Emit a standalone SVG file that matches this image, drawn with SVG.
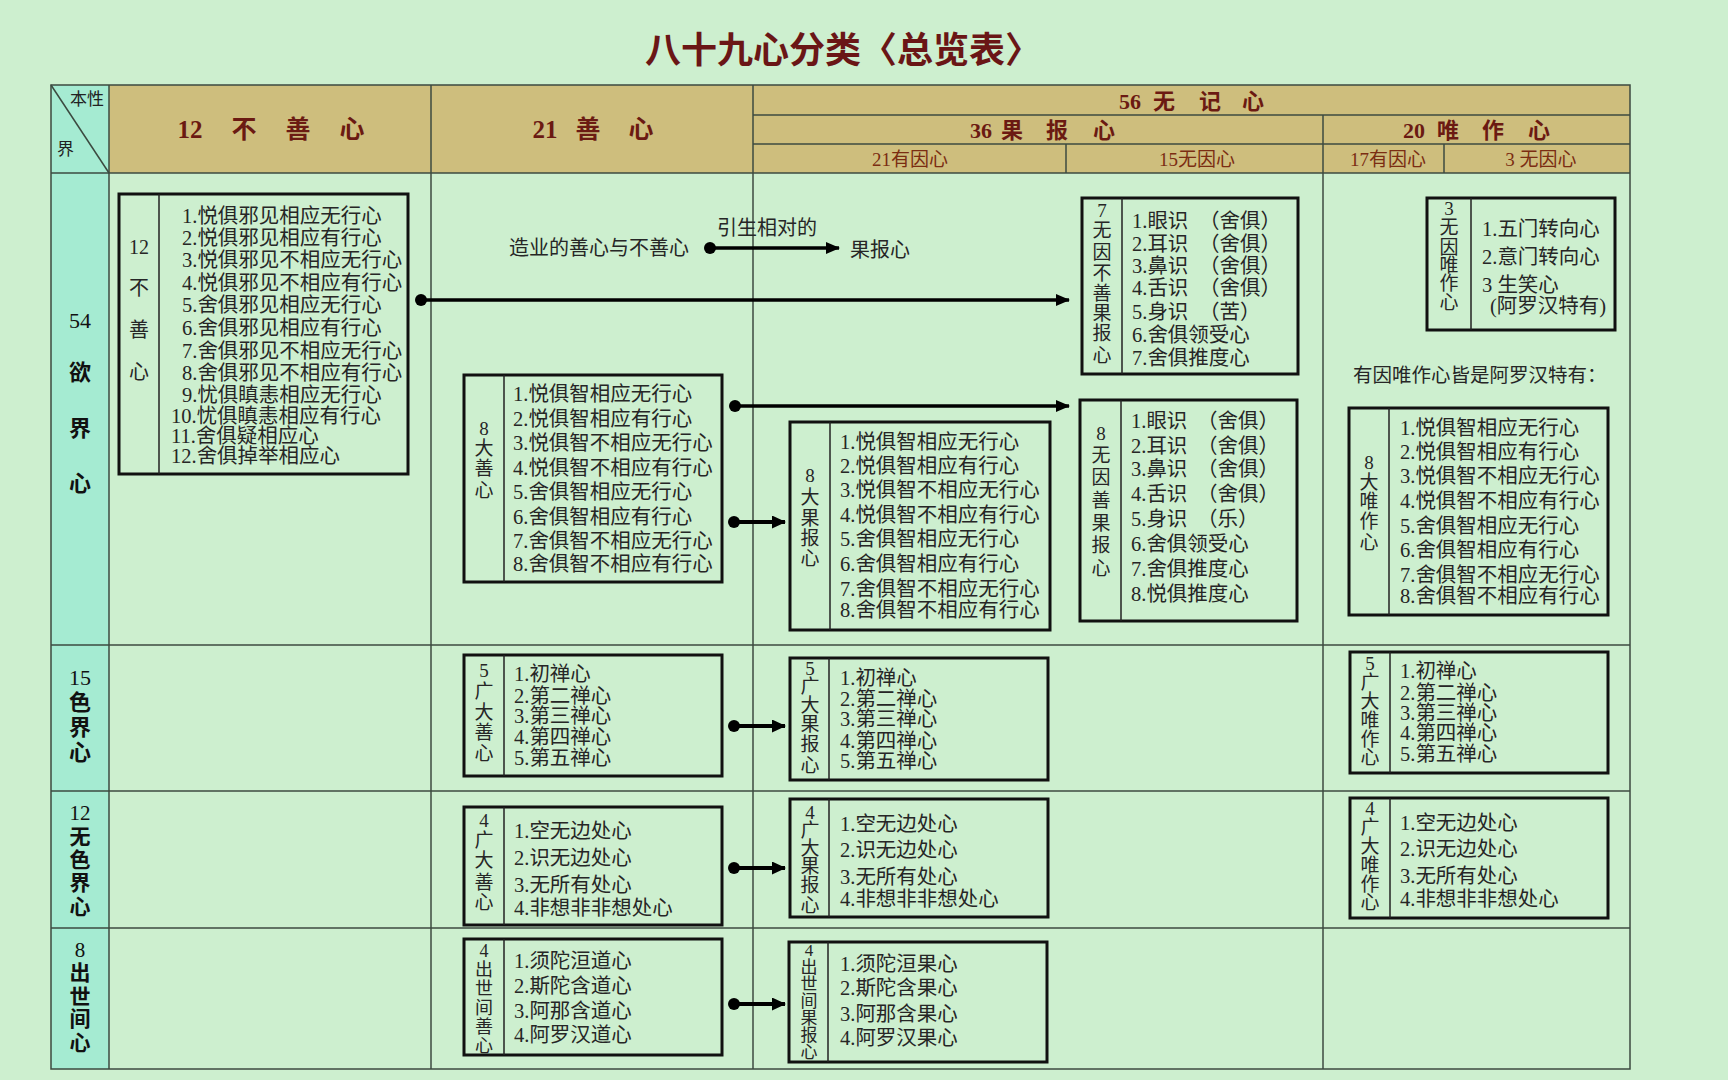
<svg xmlns="http://www.w3.org/2000/svg" width="1728" height="1080" viewBox="0 0 1728 1080">
<defs>
<style>
text{font-family:"Liberation Serif","Noto Sans CJK SC",serif;}
.title{font-size:36px;fill:#6a1616;font-weight:bold;}
.h1{font-size:25px;fill:#6b1a12;text-anchor:middle;font-weight:bold;}
.h2{font-size:22px;fill:#6b1a12;text-anchor:middle;font-weight:bold;}
.h3{font-size:19px;fill:#7b2d12;text-anchor:middle;}
.corner{font-size:17px;fill:#222;}
.row{font-size:22px;fill:#111;text-anchor:middle;font-weight:bold;}
.row .d{font-weight:normal;}
.t{font-size:20.5px;fill:#262626;}
.lab{font-size:19px;fill:#262626;text-anchor:middle;}
.note{font-size:20px;fill:#262626;}
.box{fill:none;stroke:#111;stroke-width:3;}
.dv{stroke:#222;stroke-width:1.5;}
.grid{stroke:#3c4a40;stroke-width:1.5;fill:none;}
.arr{stroke:#000;stroke-width:3.5;fill:none;marker-end:url(#ah);}
.arr2{stroke:#000;stroke-width:4;fill:none;marker-end:url(#ah2);}
.dot{fill:#000;}
</style>
<marker id="ah" markerUnits="userSpaceOnUse" markerWidth="14" markerHeight="12" refX="13" refY="6" orient="auto"><path d="M0,0 L14,6 L0,12 z" fill="#000"/></marker>
<marker id="ah2" markerUnits="userSpaceOnUse" markerWidth="14" markerHeight="13" refX="13" refY="6.5" orient="auto"><path d="M0,0 L14,6.5 L0,13 z" fill="#000"/></marker>
</defs>
<rect x="0" y="0" width="1728" height="1080" fill="#cdefcf"/>
<text class="title" x="645" y="63">八十九心分类〈总览表〉</text>

<g id="table">
<rect x="109" y="85" width="1521" height="88" fill="#cebe7d"/>
<rect x="51" y="85" width="58" height="984" fill="#a5ebd2"/>
<rect class="grid" x="51" y="85" width="1579" height="984"/>
<line class="grid" x1="753" y1="115" x2="1630" y2="115"/>
<line class="grid" x1="753" y1="144" x2="1630" y2="144"/>
<line class="grid" x1="51" y1="173" x2="1630" y2="173"/>
<line class="grid" x1="51" y1="645" x2="1630" y2="645"/>
<line class="grid" x1="51" y1="791" x2="1630" y2="791"/>
<line class="grid" x1="51" y1="928" x2="1630" y2="928"/>
<line class="grid" x1="109" y1="85" x2="109" y2="1069"/>
<line class="grid" x1="431" y1="85" x2="431" y2="1069"/>
<line class="grid" x1="753" y1="85" x2="753" y2="1069"/>
<line class="grid" x1="1323" y1="115" x2="1323" y2="1069"/>
<line class="grid" x1="1066" y1="144" x2="1066" y2="173"/>
<line class="grid" x1="1444" y1="144" x2="1444" y2="173"/>
<line class="grid" x1="51" y1="85" x2="109" y2="173"/>
<text class="corner" x="70" y="105">本性</text>
<text class="corner" x="57" y="155">界</text>
<text class="h1"><tspan x="190" y="138">12</tspan><tspan x="244" y="138">不</tspan><tspan x="298" y="138">善</tspan><tspan x="352" y="138">心</tspan></text>
<text class="h1"><tspan x="545" y="138">21</tspan><tspan x="588" y="138">善</tspan><tspan x="641" y="138">心</tspan></text>
<text class="h2"><tspan x="1130" y="109">56</tspan><tspan x="1164" y="109">无</tspan><tspan x="1210" y="109">记</tspan><tspan x="1253" y="109">心</tspan></text>
<text class="h2"><tspan x="981" y="137.5">36</tspan><tspan x="1012" y="137.5">果</tspan><tspan x="1057" y="137.5">报</tspan><tspan x="1104" y="137.5">心</tspan></text>
<text class="h2"><tspan x="1414" y="137.5">20</tspan><tspan x="1448" y="137.5">唯</tspan><tspan x="1493" y="137.5">作</tspan><tspan x="1539" y="137.5">心</tspan></text>
<text class="h3" x="910" y="166">21有因心</text>
<text class="h3" x="1197" y="166">15无因心</text>
<text class="h3" x="1388" y="166">17有因心</text>
<text class="h3" x="1541" y="166">3 无因心</text>
<text class="row"><tspan class="d" x="80" y="328">54</tspan><tspan x="80" y="380">欲</tspan><tspan x="80" y="436">界</tspan><tspan x="80" y="491">心</tspan></text>
<text class="row"><tspan class="d" x="80" y="685">15</tspan><tspan x="80" y="710">色</tspan><tspan x="80" y="735">界</tspan><tspan x="80" y="760">心</tspan></text>
<text class="row" style="font-size:21px"><tspan class="d" x="80" y="820">12</tspan><tspan x="80" y="844">无</tspan><tspan x="80" y="867">色</tspan><tspan x="80" y="890">界</tspan><tspan x="80" y="914">心</tspan></text>
<text class="row" style="font-size:21px"><tspan class="d" x="80" y="957">8</tspan><tspan x="80" y="980">出</tspan><tspan x="80" y="1004">世</tspan><tspan x="80" y="1026">间</tspan><tspan x="80" y="1050">心</tspan></text>
</g>

<g id="legend">
<text class="note" x="509" y="255">造业的善心与不善心</text>
<text class="note" x="717" y="235">引生相对的</text>
<text class="note" x="850" y="257">果报心</text>
</g>

<g id="connectors">
<circle class="dot" cx="710" cy="248" r="6"/>
<line class="arr" x1="710" y1="248" x2="839" y2="248"/>
<circle class="dot" cx="421" cy="300" r="6"/>
<line class="arr" x1="421" y1="300" x2="1069" y2="300"/>
<circle class="dot" cx="735" cy="406" r="6"/>
<line class="arr" x1="735" y1="406" x2="1069" y2="406"/>
<circle class="dot" cx="734" cy="522" r="6"/>
<line class="arr2" x1="734" y1="522" x2="785" y2="522"/>
<circle class="dot" cx="734" cy="726" r="6"/>
<line class="arr2" x1="734" y1="726" x2="785" y2="726"/>
<circle class="dot" cx="734" cy="868" r="6"/>
<line class="arr2" x1="734" y1="868" x2="785" y2="868"/>
<circle class="dot" cx="734" cy="1004" r="6"/>
<line class="arr2" x1="734" y1="1004" x2="785" y2="1004"/>
</g>

<g id="akusala12">
<rect class="box" x="119" y="194" width="289" height="280"/>
<line class="dv" x1="159" y1="194" x2="159" y2="474"/>
<text class="lab" style="font-size:20px"><tspan x="139" y="254">12</tspan><tspan x="139" y="295">不</tspan><tspan x="139" y="337">善</tspan><tspan x="139" y="379">心</tspan></text>
<text class="t">
<tspan x="182" y="223">1.悦俱邪见相应无行心</tspan>
<tspan x="182" y="245">2.悦俱邪见相应有行心</tspan>
<tspan x="182" y="267">3.悦俱邪见不相应无行心</tspan>
<tspan x="182" y="290">4.悦俱邪见不相应有行心</tspan>
<tspan x="182" y="312">5.舍俱邪见相应无行心</tspan>
<tspan x="182" y="335">6.舍俱邪见相应有行心</tspan>
<tspan x="182" y="358">7.舍俱邪见不相应无行心</tspan>
<tspan x="182" y="380">8.舍俱邪见不相应有行心</tspan>
<tspan x="182" y="402">9.忧俱瞋恚相应无行心</tspan>
<tspan x="171" y="423">10.忧俱瞋恚相应有行心</tspan>
<tspan x="171" y="443">11.舍俱疑相应心</tspan>
<tspan x="171" y="463">12.舍俱掉举相应心</tspan>
</text>
</g>

<g id="kusala8">
<rect class="box" x="464" y="375" width="258" height="207"/>
<line class="dv" x1="504" y1="375" x2="504" y2="582"/>
<text class="lab"><tspan x="484" y="435">8</tspan><tspan x="484" y="455">大</tspan><tspan x="484" y="475">善</tspan><tspan x="484" y="497">心</tspan></text>
<text class="t">
<tspan x="513" y="401">1.悦俱智相应无行心</tspan>
<tspan x="513" y="425.5">2.悦俱智相应有行心</tspan>
<tspan x="513" y="450">3.悦俱智不相应无行心</tspan>
<tspan x="513" y="474.5">4.悦俱智不相应有行心</tspan>
<tspan x="513" y="499">5.舍俱智相应无行心</tspan>
<tspan x="513" y="523.5">6.舍俱智相应有行心</tspan>
<tspan x="513" y="548">7.舍俱智不相应无行心</tspan>
<tspan x="513" y="571">8.舍俱智不相应有行心</tspan>
</text>
</g>

<g id="vipaka8">
<rect class="box" x="790" y="422" width="260" height="208"/>
<line class="dv" x1="830" y1="422" x2="830" y2="630"/>
<text class="lab"><tspan x="810" y="482">8</tspan><tspan x="810" y="504">大</tspan><tspan x="810" y="525">果</tspan><tspan x="810" y="545">报</tspan><tspan x="810" y="565">心</tspan></text>
<text class="t">
<tspan x="840" y="449">1.悦俱智相应无行心</tspan>
<tspan x="840" y="473">2.悦俱智相应有行心</tspan>
<tspan x="840" y="497">3.悦俱智不相应无行心</tspan>
<tspan x="840" y="522">4.悦俱智不相应有行心</tspan>
<tspan x="840" y="546">5.舍俱智相应无行心</tspan>
<tspan x="840" y="571">6.舍俱智相应有行心</tspan>
<tspan x="840" y="596">7.舍俱智不相应无行心</tspan>
<tspan x="840" y="617">8.舍俱智不相应有行心</tspan>
</text>
</g>

<g id="ahetuka-akusala7">
<rect class="box" x="1082" y="198" width="216" height="176"/>
<line class="dv" x1="1122" y1="198" x2="1122" y2="374"/>
<text class="lab"><tspan x="1102" y="217">7</tspan><tspan x="1102" y="237">无</tspan><tspan x="1102" y="259">因</tspan><tspan x="1102" y="280">不</tspan><tspan x="1102" y="300">善</tspan><tspan x="1102" y="320">果</tspan><tspan x="1102" y="340">报</tspan><tspan x="1102" y="362">心</tspan></text>
<text class="t">
<tspan x="1132" y="228">1.眼识</tspan><tspan x="1199" y="228">（舍俱）</tspan>
<tspan x="1132" y="251">2.耳识</tspan><tspan x="1199" y="251">（舍俱）</tspan>
<tspan x="1132" y="273">3.鼻识</tspan><tspan x="1199" y="273">（舍俱）</tspan>
<tspan x="1132" y="295">4.舌识</tspan><tspan x="1199" y="295">（舍俱）</tspan>
<tspan x="1132" y="319">5.身识</tspan><tspan x="1199" y="319">（苦）</tspan>
<tspan x="1132" y="342">6.舍俱领受心</tspan>
<tspan x="1132" y="365">7.舍俱推度心</tspan>
</text>
</g>

<g id="ahetuka-kusala8">
<rect class="box" x="1080" y="400" width="217" height="221"/>
<line class="dv" x1="1121" y1="400" x2="1121" y2="621"/>
<text class="lab"><tspan x="1101" y="440">8</tspan><tspan x="1101" y="462">无</tspan><tspan x="1101" y="484">因</tspan><tspan x="1101" y="507">善</tspan><tspan x="1101" y="530">果</tspan><tspan x="1101" y="552">报</tspan><tspan x="1101" y="575">心</tspan></text>
<text class="t">
<tspan x="1131" y="428">1.眼识</tspan><tspan x="1197" y="428">（舍俱）</tspan>
<tspan x="1131" y="453">2.耳识</tspan><tspan x="1197" y="453">（舍俱）</tspan>
<tspan x="1131" y="476">3.鼻识</tspan><tspan x="1197" y="476">（舍俱）</tspan>
<tspan x="1131" y="501">4.舌识</tspan><tspan x="1197" y="501">（舍俱）</tspan>
<tspan x="1131" y="526">5.身识</tspan><tspan x="1197" y="526">（乐）</tspan>
<tspan x="1131" y="551">6.舍俱领受心</tspan>
<tspan x="1131" y="576">7.舍俱推度心</tspan>
<tspan x="1131" y="601">8.悦俱推度心</tspan>
</text>
</g>

<g id="ahetuka-kiriya3">
<rect class="box" x="1427" y="198" width="188" height="132"/>
<line class="dv" x1="1471" y1="198" x2="1471" y2="330"/>
<text class="lab"><tspan x="1449" y="215">3</tspan><tspan x="1449" y="234">无</tspan><tspan x="1449" y="254">因</tspan><tspan x="1449" y="272">唯</tspan><tspan x="1449" y="290">作</tspan><tspan x="1449" y="309">心</tspan></text>
<text class="t">
<tspan x="1482" y="236">1.五门转向心</tspan>
<tspan x="1482" y="264">2.意门转向心</tspan>
<tspan x="1482" y="292">3 生笑心</tspan>
<tspan x="1490" y="313">(阿罗汉特有)</tspan>
</text>
</g>

<g id="kiriya-note">
<text class="note" style="font-size:19.5px" x="1353" y="382">有因唯作心皆是阿罗汉特有：</text>
</g>

<g id="kiriya8">
<rect class="box" x="1349" y="408" width="259" height="207"/>
<line class="dv" x1="1389" y1="408" x2="1389" y2="615"/>
<text class="lab"><tspan x="1369" y="469">8</tspan><tspan x="1369" y="489">大</tspan><tspan x="1369" y="508">唯</tspan><tspan x="1369" y="528">作</tspan><tspan x="1369" y="549">心</tspan></text>
<text class="t">
<tspan x="1400" y="435">1.悦俱智相应无行心</tspan>
<tspan x="1400" y="459">2.悦俱智相应有行心</tspan>
<tspan x="1400" y="483">3.悦俱智不相应无行心</tspan>
<tspan x="1400" y="508">4.悦俱智不相应有行心</tspan>
<tspan x="1400" y="533">5.舍俱智相应无行心</tspan>
<tspan x="1400" y="557">6.舍俱智相应有行心</tspan>
<tspan x="1400" y="582">7.舍俱智不相应无行心</tspan>
<tspan x="1400" y="603">8.舍俱智不相应有行心</tspan>
</text>
</g>

<g id="rupa-kusala5">
<rect class="box" x="464" y="655" width="258" height="121"/>
<line class="dv" x1="504" y1="655" x2="504" y2="776"/>
<text class="lab"><tspan x="484" y="677">5</tspan><tspan x="484" y="698">广</tspan><tspan x="484" y="719">大</tspan><tspan x="484" y="739">善</tspan><tspan x="484" y="760">心</tspan></text>
<text class="t">
<tspan x="514" y="681">1.初禅心</tspan>
<tspan x="514" y="703">2.第二禅心</tspan>
<tspan x="514" y="723">3.第三禅心</tspan>
<tspan x="514" y="744">4.第四禅心</tspan>
<tspan x="514" y="765">5.第五禅心</tspan>
</text>
</g>

<g id="rupa-vipaka5">
<rect class="box" x="790" y="658" width="258" height="122"/>
<line class="dv" x1="829" y1="658" x2="829" y2="780"/>
<text class="lab"><tspan x="810" y="675">5</tspan><tspan x="810" y="693">广</tspan><tspan x="810" y="712">大</tspan><tspan x="810" y="731">果</tspan><tspan x="810" y="751">报</tspan><tspan x="810" y="772">心</tspan></text>
<text class="t">
<tspan x="840" y="685">1.初禅心</tspan>
<tspan x="840" y="706">2.第二禅心</tspan>
<tspan x="840" y="726">3.第三禅心</tspan>
<tspan x="840" y="748">4.第四禅心</tspan>
<tspan x="840" y="768">5.第五禅心</tspan>
</text>
</g>

<g id="rupa-kiriya5">
<rect class="box" x="1350" y="652" width="258" height="121"/>
<line class="dv" x1="1390" y1="652" x2="1390" y2="773"/>
<text class="lab"><tspan x="1370" y="670">5</tspan><tspan x="1370" y="689">广</tspan><tspan x="1370" y="708">大</tspan><tspan x="1370" y="727">唯</tspan><tspan x="1370" y="746">作</tspan><tspan x="1370" y="764">心</tspan></text>
<text class="t">
<tspan x="1400" y="678">1.初禅心</tspan>
<tspan x="1400" y="700">2.第二禅心</tspan>
<tspan x="1400" y="720">3.第三禅心</tspan>
<tspan x="1400" y="740">4.第四禅心</tspan>
<tspan x="1400" y="761">5.第五禅心</tspan>
</text>
</g>

<g id="arupa-kusala4">
<rect class="box" x="464" y="807" width="258" height="118"/>
<line class="dv" x1="504" y1="807" x2="504" y2="925"/>
<text class="lab"><tspan x="484" y="827">4</tspan><tspan x="484" y="847">广</tspan><tspan x="484" y="867">大</tspan><tspan x="484" y="889">善</tspan><tspan x="484" y="909">心</tspan></text>
<text class="t">
<tspan x="514" y="838">1.空无边处心</tspan>
<tspan x="514" y="865">2.识无边处心</tspan>
<tspan x="514" y="892">3.无所有处心</tspan>
<tspan x="514" y="915">4.非想非非想处心</tspan>
</text>
</g>

<g id="arupa-vipaka4">
<rect class="box" x="790" y="799" width="258" height="118"/>
<line class="dv" x1="829" y1="799" x2="829" y2="917"/>
<text class="lab"><tspan x="810" y="819">4</tspan><tspan x="810" y="837">广</tspan><tspan x="810" y="855">大</tspan><tspan x="810" y="873">果</tspan><tspan x="810" y="892">报</tspan><tspan x="810" y="912">心</tspan></text>
<text class="t">
<tspan x="840" y="831">1.空无边处心</tspan>
<tspan x="840" y="857">2.识无边处心</tspan>
<tspan x="840" y="884">3.无所有处心</tspan>
<tspan x="840" y="906">4.非想非非想处心</tspan>
</text>
</g>

<g id="arupa-kiriya4">
<rect class="box" x="1350" y="798" width="258" height="120"/>
<line class="dv" x1="1390" y1="798" x2="1390" y2="918"/>
<text class="lab"><tspan x="1370" y="815">4</tspan><tspan x="1370" y="834">广</tspan><tspan x="1370" y="853">大</tspan><tspan x="1370" y="872">唯</tspan><tspan x="1370" y="891">作</tspan><tspan x="1370" y="909">心</tspan></text>
<text class="t">
<tspan x="1400" y="830">1.空无边处心</tspan>
<tspan x="1400" y="856">2.识无边处心</tspan>
<tspan x="1400" y="883">3.无所有处心</tspan>
<tspan x="1400" y="906">4.非想非非想处心</tspan>
</text>
</g>

<g id="lokuttara-kusala4">
<rect class="box" x="464" y="939" width="258" height="116"/>
<line class="dv" x1="504" y1="939" x2="504" y2="1055"/>
<text class="lab" style="font-size:18px"><tspan x="484" y="957">4</tspan><tspan x="484" y="976">出</tspan><tspan x="484" y="995">世</tspan><tspan x="484" y="1014">间</tspan><tspan x="484" y="1033">善</tspan><tspan x="484" y="1052">心</tspan></text>
<text class="t">
<tspan x="514" y="968">1.须陀洹道心</tspan>
<tspan x="514" y="993">2.斯陀含道心</tspan>
<tspan x="514" y="1018">3.阿那含道心</tspan>
<tspan x="514" y="1042">4.阿罗汉道心</tspan>
</text>
</g>

<g id="lokuttara-vipaka4">
<rect class="box" x="789" y="942" width="258" height="120"/>
<line class="dv" x1="828" y1="942" x2="828" y2="1062"/>
<text class="lab" style="font-size:17px"><tspan x="809" y="956">4</tspan><tspan x="809" y="973">出</tspan><tspan x="809" y="990">世</tspan><tspan x="809" y="1007">间</tspan><tspan x="809" y="1024">果</tspan><tspan x="809" y="1041">报</tspan><tspan x="809" y="1058">心</tspan></text>
<text class="t">
<tspan x="840" y="971">1.须陀洹果心</tspan>
<tspan x="840" y="995">2.斯陀含果心</tspan>
<tspan x="840" y="1021">3.阿那含果心</tspan>
<tspan x="840" y="1045">4.阿罗汉果心</tspan>
</text>
</g>
</svg>
